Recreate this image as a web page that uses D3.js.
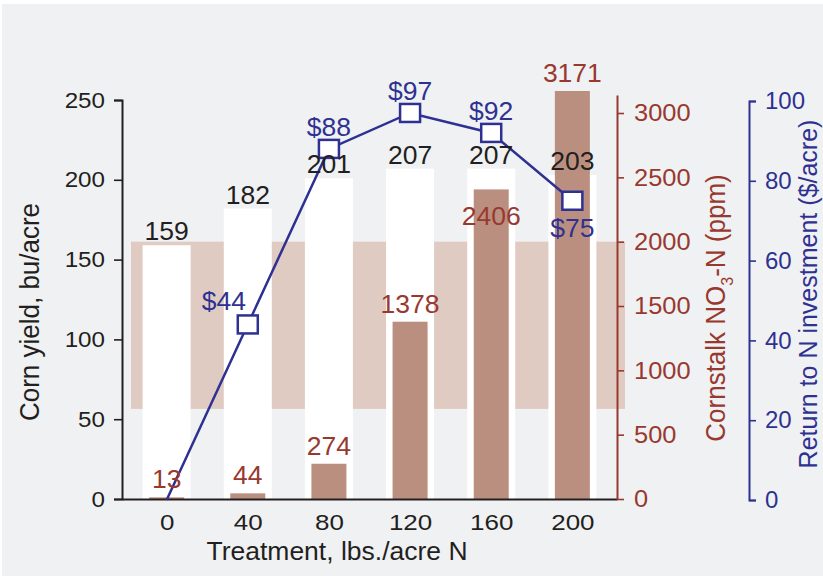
<!DOCTYPE html>
<html>
<head>
<meta charset="utf-8">
<script src="https://cdn.jsdelivr.net/npm/d3@7"></script>
<style>
  html, body { margin: 0; padding: 0; background: #ffffff; }
  svg { display: block; }
  text { font-family: "Liberation Sans", Arial, Helvetica, sans-serif; }
</style>
</head>
<body>
<svg id="chart" width="823" height="576"></svg>
<script>
// ---- data -------------------------------------------------------------
const treatments   = [0, 40, 80, 120, 160, 200];          // lbs./acre N
const cornYield    = [159, 182, 201, 207, 207, 203];      // bu/acre
const stalkNitrate = [13, 44, 274, 1378, 2406, 3171];     // ppm NO3-N
const nReturn      = [0, 44, 88, 97, 92, 75];             // $/acre
const yieldTicks   = [0, 50, 100, 150, 200, 250];
const nitrateTicks = [0, 500, 1000, 1500, 2000, 2500, 3000];
const returnTicks  = [0, 20, 40, 60, 80, 100];
const optimalRange = [700, 2000];                         // ppm, shaded band

// ---- label placement (layout only) ---------------------------------------
const returnLabelSide  = [null, "left", "above", "above", "above", "below"];
const nitrateLabelSide = ["above", "above", "above", "above", "inside", "above"];

// ---- look -----------------------------------------------------------------
const COL = {
  bg: "#f0f1f3", band: "#e0cbc3", stalkBar: "#bb8f7f",
  brown: "#98392f", blue: "#2e3192", ink: "#231f20", white: "#ffffff"
};
const FONT = "\"Liberation Sans\", Arial, Helvetica, sans-serif";
const plot = { left: 122, right: 617, top: 100, bottom: 499 };
const returnAxisX = 749;

const svg = d3.select("#chart");

// scales
const x = d3.scalePoint().domain(treatments).range([plot.left, plot.right]).padding(0.55);
const yYield = d3.scaleLinear().domain([0, 250]).range([plot.bottom, plot.top]);
const yNit = d3.scaleLinear().domain([0, 3140]).range([plot.bottom, 95]);
const yRet = d3.scaleLinear().domain([0, 100]).range([500, 101]);

// stretch text horizontally around its anchor point
function stretchText(sel, sx) {
  sel.each(function () {
    const t = d3.select(this);
    const tx = +t.attr("x") || 0, ty = +t.attr("y") || 0;
    t.attr("x", 0).attr("y", 0)
     .attr("transform", `translate(${tx},${ty}) scale(${sx},1)`);
  });
}

function addLabel(g, px, py, str, size, color, sx, anchor = "middle") {
  g.append("text")
    .attr("transform", `translate(${px},${py}) scale(${sx},1)`)
    .attr("text-anchor", anchor)
    .attr("font-size", size)
    .attr("fill", color)
    .text(str);
}

// background panel
svg.append("rect").attr("x", 2).attr("y", 4).attr("width", 821).attr("height", 572)
  .attr("fill", COL.bg);

// optimal nitrate range band
svg.append("rect")
  .attr("x", plot.left + 9).attr("width", plot.right + 8 - (plot.left + 9))
  .attr("y", yNit(optimalRange[1]))
  .attr("height", yNit(optimalRange[0]) - yNit(optimalRange[1]))
  .attr("fill", COL.band);

// corn yield bars
const yieldBarW = 48, stalkBarW = 35;
svg.append("g").selectAll("rect").data(cornYield).join("rect")
  .attr("x", (d, i) => x(treatments[i]) - yieldBarW / 2)
  .attr("width", yieldBarW)
  .attr("y", d => yYield(d))
  .attr("height", d => plot.bottom - yYield(d))
  .attr("fill", COL.white);

// cornstalk nitrate bars
svg.append("g").selectAll("rect").data(stalkNitrate).join("rect")
  .attr("x", (d, i) => x(treatments[i]) - stalkBarW / 2)
  .attr("width", stalkBarW)
  .attr("y", d => yNit(d))
  .attr("height", d => plot.bottom - yNit(d))
  .attr("fill", COL.stalkBar);

// axes
function styleAxis(g, color, size, sx) {
  g.selectAll(".domain").attr("stroke", color).attr("stroke-width", 2);
  g.selectAll(".tick line").attr("stroke", color).attr("stroke-width", 1.6);
  g.selectAll(".tick text").attr("fill", color).attr("font-size", size)
    .attr("font-family", FONT);
  stretchText(g.selectAll(".tick text"), sx);
}
const plain = d3.format("d");

const gx = svg.append("g").attr("transform", `translate(0,${plot.bottom})`)
  .call(d3.axisBottom(x).tickSize(0).tickSizeOuter(0).tickPadding(15));
styleAxis(gx, COL.ink, 22, 1.18);

const gyL = svg.append("g").attr("transform", `translate(${plot.left},0)`)
  .call(d3.axisLeft(yYield).tickValues(yieldTicks).tickFormat(plain)
        .tickSize(8).tickSizeOuter(8).tickPadding(9));
styleAxis(gyL, COL.ink, 22, 1.1);

const gyN = svg.append("g").attr("transform", `translate(${plot.right},0)`)
  .call(d3.axisRight(yNit).tickValues(nitrateTicks).tickFormat(plain)
        .tickSize(7).tickSizeOuter(0).tickPadding(10));
styleAxis(gyN, COL.brown, 24, 1.06);

const gyR = svg.append("g").attr("transform", `translate(${returnAxisX},0)`)
  .call(d3.axisRight(yRet).tickValues(returnTicks).tickFormat(plain)
        .tickSize(7).tickSizeOuter(7).tickPadding(9));
styleAxis(gyR, COL.blue, 24, 1.0);

// labels for nitrate
const labels = svg.append("g");
stalkNitrate.forEach((v, i) => {
  const top = yNit(v);
  const py = nitrateLabelSide[i] === "inside" ? top + 36 : top - 9;
  addLabel(labels, x(treatments[i]), py, String(v), 26, COL.brown, 1.02);
});

// return to N line
const line = d3.line()
  .x((d, i) => x(treatments[i]))
  .y(d => yRet(d));
svg.append("path").datum(nReturn)
  .attr("d", line)
  .attr("fill", "none")
  .attr("stroke", COL.blue)
  .attr("stroke-width", 2.5);

const mW = 20, mH = 18;
const markers = svg.append("g");
nReturn.forEach((v, i) => {
  if (!returnLabelSide[i]) return;
  const cx = x(treatments[i]), cy = yRet(v);
  markers.append("rect")
    .attr("x", cx - mW / 2).attr("y", cy - mH / 2)
    .attr("width", mW).attr("height", mH)
    .attr("fill", COL.white).attr("stroke", COL.blue).attr("stroke-width", 2.5);
  const side = returnLabelSide[i];
  let lx = cx, ly = cy - 13;
  if (side === "below") ly = cy + 36;
  if (side === "left") { lx = cx - 24; ly = cy - 14; }
  addLabel(markers, lx, ly, "$" + v, 26, COL.blue, 1.02);
});

// yield values sit just above their bars
cornYield.forEach((v, i) => {
  addLabel(labels.raise(), x(treatments[i]), yYield(v) - 5, String(v), 26, COL.ink, 1.02);
});

// axis titles
addLabel(svg, 337, 560, "Treatment, lbs./acre N", 25, COL.ink, 1.06);

svg.append("text")
  .attr("transform", "translate(39,312) rotate(-90) scale(1,1.08)")
  .attr("text-anchor", "middle").attr("font-size", 26).attr("fill", COL.ink)
  .text("Corn yield, bu/acre");

const nt = svg.append("text")
  .attr("transform", "translate(725,308) rotate(-90) scale(1,1.08)")
  .attr("text-anchor", "middle").attr("font-size", 26).attr("fill", COL.brown);
nt.append("tspan").text("Cornstalk NO");
nt.append("tspan").attr("font-size", 16).attr("dy", 7).text("3");
nt.append("tspan").attr("dy", -7).text("-N (ppm)");

svg.append("text")
  .attr("transform", "translate(817,294) rotate(-90)")
  .attr("text-anchor", "middle").attr("font-size", 25).attr("fill", COL.blue)
  .text("Return to N investment ($/acre)");
</script>
</body>
</html>
